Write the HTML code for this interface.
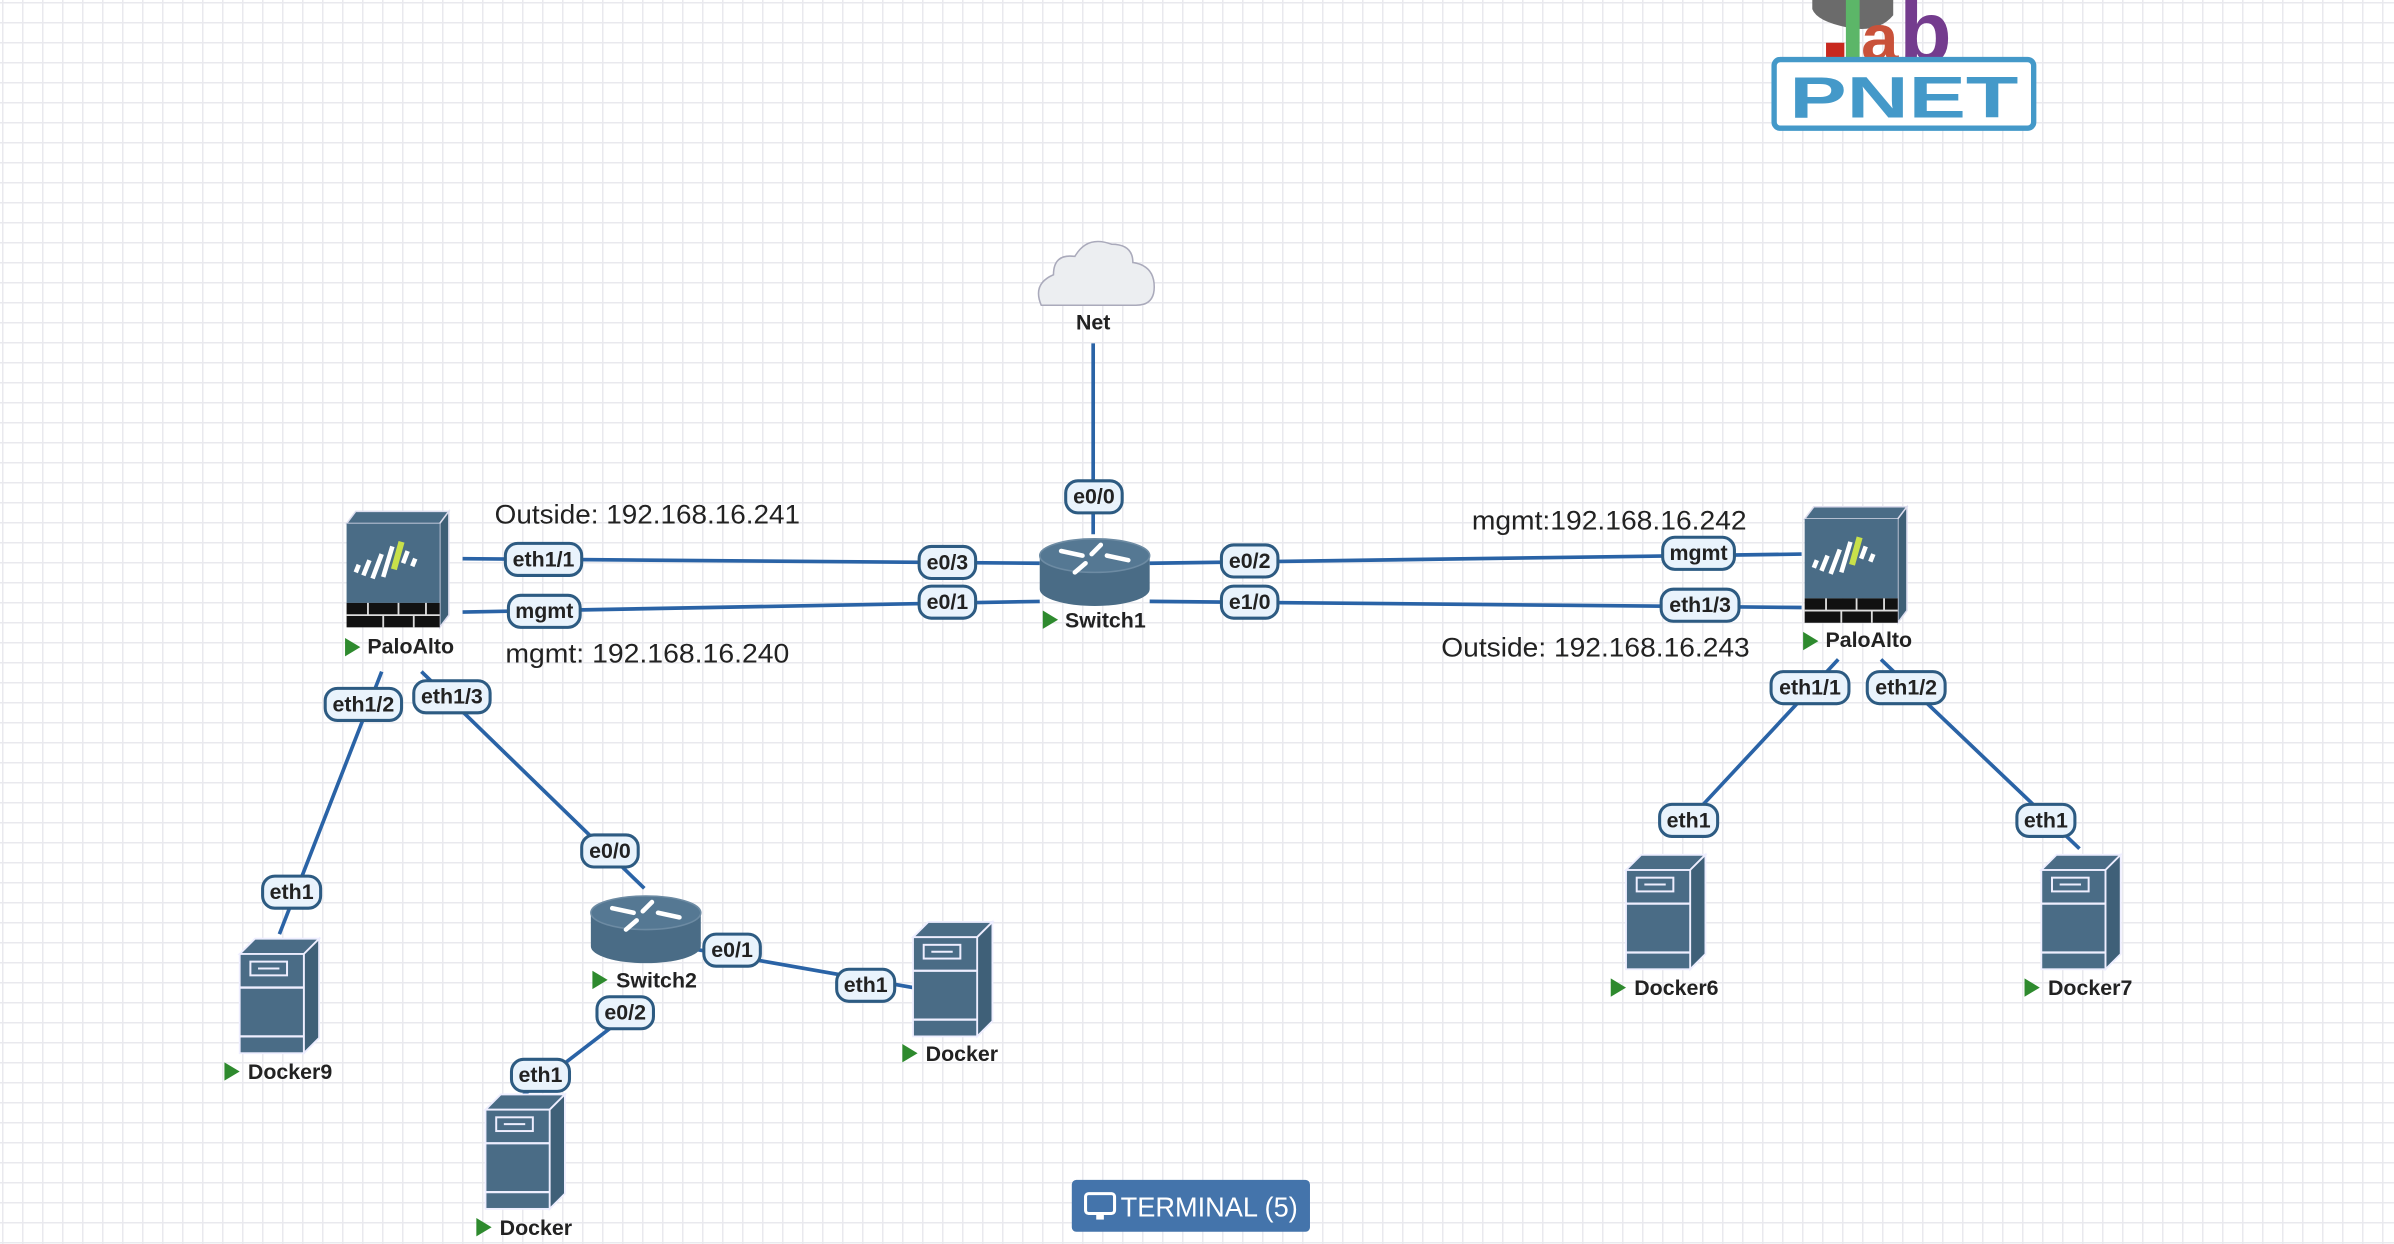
<!DOCTYPE html>
<html><head><meta charset="utf-8"><style>
html,body{margin:0;padding:0;}
body{width:2394px;height:1244px;overflow:hidden;background-color:#fff;
background-image:linear-gradient(#e9e9ee 1.5px,transparent 1.5px),linear-gradient(90deg,#e9e9ee 1.5px,transparent 1.5px);
background-size:20px 20px;background-position:2px 2px;}
svg{position:absolute;left:0;top:0}
.t{font-family:"Liberation Sans",Arial,sans-serif;font-weight:bold;font-size:14px;fill:#222;text-anchor:middle}
.n{font-family:"Liberation Sans",Arial,sans-serif;font-size:17.6px;fill:#222}
.p{fill:#e9f3fc;stroke:#2d5b82;stroke-width:2}
.l{stroke:#2a63a6;stroke-width:2.4;fill:none}
</style></head><body>
<svg width="2394" height="1244" viewBox="0 0 1568 815" preserveAspectRatio="none">
<defs>
<g id="srv">
<path d="M0 10 L10 0 L52 0 L42 10 Z" fill="#4a6c86" stroke="#eef" stroke-width="1.2"/>
<path d="M42 10 L52 0 L52 65 L42 75 Z" fill="#3f6078" stroke="#eef" stroke-width="1.2"/>
<rect x="0" y="10" width="42" height="65" fill="#4a6c86" stroke="#eef" stroke-width="1.2"/>
<line x1="0" y1="32" x2="42" y2="32" stroke="#eef" stroke-width="1.5"/>
<line x1="0" y1="64" x2="42" y2="64" stroke="#eef" stroke-width="1.5"/>
<rect x="7" y="15" width="24" height="9" fill="none" stroke="#eef" stroke-width="1.3"/>
<line x1="12" y1="19.5" x2="26" y2="19.5" stroke="#eef" stroke-width="1.3"/>
</g>
<g id="rtr">
<path d="M0 12 L0 34 A36 11 0 0 0 72 34 L72 12 Z" fill="#4a6c86"/>
<ellipse cx="36" cy="12" rx="36" ry="11" fill="#557893" stroke="#6d8ba3"/>
<path d="M14 9 l14 3 M40 5 l-6 6 M30 17 l-7 6 M44 12 l14 3" stroke="#fff" stroke-width="3" stroke-linecap="round"/>
</g>
<g id="fw">
<path d="M0 8 L6 0 L67 0 L61 8 Z" fill="#4a6c86" stroke="#dde" stroke-width="1"/>
<path d="M61 8 L67 0 L67 68 L61 76 Z" fill="#3e5f76" stroke="#dde" stroke-width="1"/>
<rect x="0" y="8" width="61" height="52" fill="#4a6c86"/>
<rect x="0" y="60" width="61" height="16" fill="#111"/>
<path d="M0 68 H61 M14 60 V68 M34 60 V68 M52 60 V68 M24 68 V76 M44 68 V76" stroke="#ddd" stroke-width="1.2"/>
<path d="M6 40 l2 -5 M11 42 l4 -10 M17 44 l6 -16 M24 43 l6 -20 M37 34 l3 -8 M43 36 l2 -5" stroke="#fff" stroke-width="3"/>
<path d="M31 38 l5 -18" stroke="#c8e04a" stroke-width="4"/>
</g>
<path id="tri" d="M0 0 L10 6 L0 12 Z" fill="#2e8a2e"/>
</defs>

<g class="l">
<line x1="716" y1="225" x2="716" y2="350"/>
<line x1="303" y1="366" x2="681" y2="369"/>
<line x1="303" y1="401" x2="681" y2="394"/>
<line x1="753" y1="369" x2="1180" y2="363"/>
<line x1="753" y1="394" x2="1180" y2="398"/>
<line x1="250" y1="440" x2="183" y2="612"/>
<line x1="276" y1="440" x2="422" y2="582"/>
<line x1="456" y1="622" x2="598" y2="647"/>
<line x1="420" y1="658" x2="342" y2="718"/>
<line x1="1204" y1="432" x2="1110" y2="533"/>
<line x1="1232" y1="432" x2="1362" y2="556"/>
</g>

<path d="M682 200 Q676 186 690 180 Q690 166 704 168 Q712 154 728 160 Q742 160 742 172 Q756 174 756 188 Q756 200 744 200 Z" fill="#eceef1" stroke="#aab" stroke-width="1"/>
<text class="t" x="716" y="216">Net</text>

<use href="#rtr" x="681" y="352"/>
<use href="#tri" x="683" y="400"/><text class="t" x="724" y="411">Switch1</text>

<use href="#fw" x="227" y="335"/>
<use href="#tri" x="226" y="418"/><text class="t" x="269" y="428">PaloAlto</text>
<use href="#fw" x="1182" y="332"/>
<use href="#tri" x="1181" y="414"/><text class="t" x="1224" y="424">PaloAlto</text>

<use href="#rtr" x="387" y="586"/>
<use href="#tri" x="388" y="636"/><text class="t" x="430" y="647">Switch2</text>

<use href="#srv" x="157" y="615"/>
<use href="#tri" x="147" y="696"/><text class="t" x="190" y="707">Docker9</text>
<use href="#srv" x="598" y="604"/>
<use href="#tri" x="591" y="684"/><text class="t" x="630" y="695">Docker</text>
<use href="#srv" x="318" y="717"/>
<use href="#tri" x="312" y="798"/><text class="t" x="351" y="809">Docker</text>
<use href="#srv" x="1065" y="560"/>
<use href="#tri" x="1055" y="641"/><text class="t" x="1098" y="652">Docker6</text>
<use href="#srv" x="1337" y="560"/>
<use href="#tri" x="1326" y="641"/><text class="t" x="1369" y="652">Docker7</text>

<g>
<rect class="p" x="698" y="315" width="37" height="21" rx="8"/><text class="t" x="716.5" y="330">e0/0</text>
<rect class="p" x="331" y="356" width="50" height="21" rx="8"/><text class="t" x="356" y="371">eth1/1</text>
<rect class="p" x="602" y="358" width="37" height="21" rx="8"/><text class="t" x="620.5" y="373">e0/3</text>
<rect class="p" x="333" y="390" width="47" height="21" rx="8"/><text class="t" x="356.5" y="405">mgmt</text>
<rect class="p" x="602" y="384" width="37" height="21" rx="8"/><text class="t" x="620.5" y="399">e0/1</text>
<rect class="p" x="800" y="357" width="37" height="21" rx="8"/><text class="t" x="818.5" y="372">e0/2</text>
<rect class="p" x="1089" y="352" width="47" height="21" rx="8"/><text class="t" x="1112.5" y="367">mgmt</text>
<rect class="p" x="800" y="384" width="37" height="21" rx="8"/><text class="t" x="818.5" y="399">e1/0</text>
<rect class="p" x="1088" y="386" width="51" height="21" rx="8"/><text class="t" x="1113.5" y="401">eth1/3</text>
<rect class="p" x="213" y="451" width="50" height="21" rx="8"/><text class="t" x="238" y="466">eth1/2</text>
<rect class="p" x="271" y="446" width="50" height="21" rx="8"/><text class="t" x="296" y="461">eth1/3</text>
<rect class="p" x="172" y="574" width="38" height="21" rx="8"/><text class="t" x="191" y="589">eth1</text>
<rect class="p" x="381" y="547" width="37" height="21" rx="8"/><text class="t" x="399.5" y="562">e0/0</text>
<rect class="p" x="461" y="612" width="37" height="21" rx="8"/><text class="t" x="479.5" y="627">e0/1</text>
<rect class="p" x="548" y="635" width="38" height="21" rx="8"/><text class="t" x="567" y="650">eth1</text>
<rect class="p" x="391" y="653" width="37" height="21" rx="8"/><text class="t" x="409.5" y="668">e0/2</text>
<rect class="p" x="335" y="694" width="38" height="21" rx="8"/><text class="t" x="354" y="709">eth1</text>
<rect class="p" x="1160" y="440" width="51" height="21" rx="8"/><text class="t" x="1185.5" y="455">eth1/1</text>
<rect class="p" x="1223" y="440" width="51" height="21" rx="8"/><text class="t" x="1248.5" y="455">eth1/2</text>
<rect class="p" x="1087" y="527" width="38" height="21" rx="8"/><text class="t" x="1106" y="542">eth1</text>
<rect class="p" x="1321" y="527" width="38" height="21" rx="8"/><text class="t" x="1340" y="542">eth1</text>
</g>

<text class="n" x="324" y="343" textLength="200" lengthAdjust="spacingAndGlyphs">Outside: 192.168.16.241</text>
<text class="n" x="331" y="434" textLength="186" lengthAdjust="spacingAndGlyphs">mgmt: 192.168.16.240</text>
<text class="n" x="964" y="347" textLength="180" lengthAdjust="spacingAndGlyphs">mgmt:192.168.16.242</text>
<text class="n" x="944" y="430" textLength="202" lengthAdjust="spacingAndGlyphs">Outside: 192.168.16.243</text>

<path d="M1187 0 L1240 0 L1240 10 Q1230 22 1210 18 Q1190 14 1187 6 Z" fill="#6b6b6b"/>
<rect x="1196" y="28" width="12" height="12" fill="#c8281e"/>
<rect x="1209" y="0" width="9" height="40" fill="#5cb668"/>
<text x="1219" y="40" font-family="Liberation Sans,sans-serif" font-weight="bold" font-size="44" fill="#c9523a">a</text>
<text x="1244" y="40" font-family="Liberation Sans,sans-serif" font-weight="bold" font-size="56" fill="#743c8e">b</text>
<rect x="1162" y="39" width="170" height="45" rx="4" fill="#fff" stroke="#4499c9" stroke-width="3.5"/>
<text x="1172" y="77" font-family="Liberation Sans,sans-serif" font-weight="bold" font-size="38" fill="#4499c9" textLength="150" lengthAdjust="spacingAndGlyphs">PNET</text>

<rect x="702" y="773" width="156" height="34" rx="3" fill="#4474ab"/>
<rect x="711" y="782" width="19" height="13" rx="2" fill="none" stroke="#fff" stroke-width="2"/>
<rect x="718" y="795" width="5" height="4" fill="#fff"/>
<text x="734" y="797" font-family="Liberation Sans,sans-serif" font-size="18" fill="#fff" textLength="116" lengthAdjust="spacingAndGlyphs">TERMINAL (5)</text>
</svg>
</body></html>
